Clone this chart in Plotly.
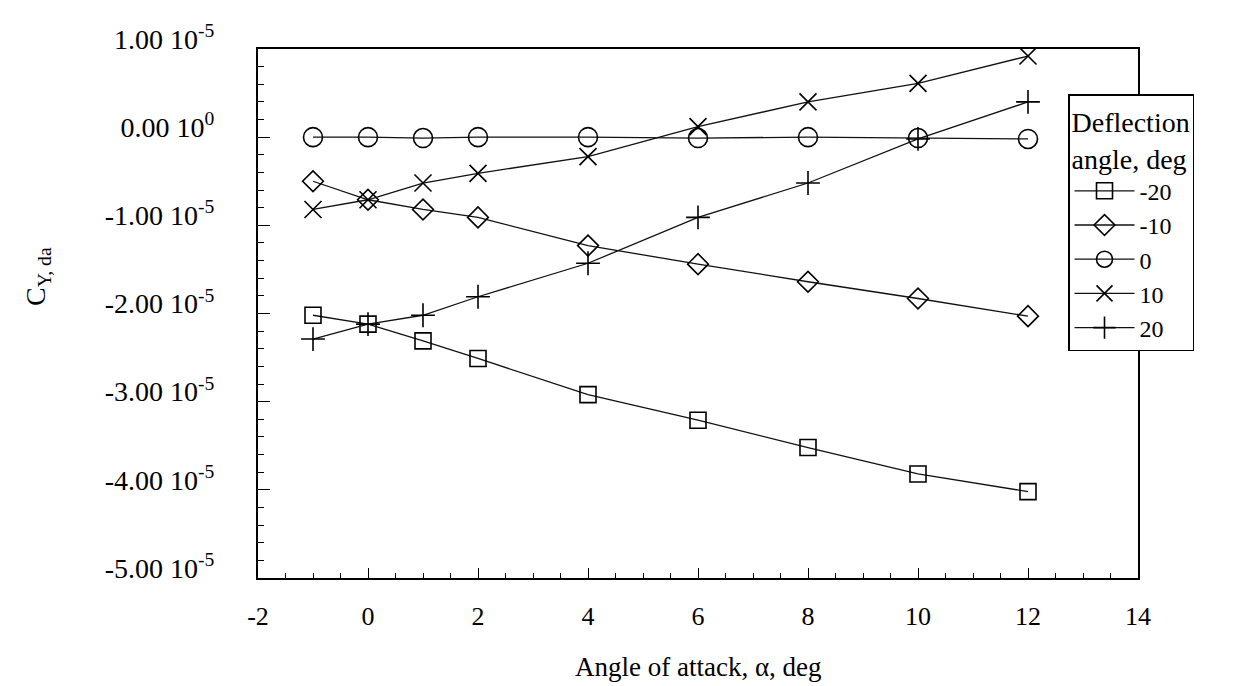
import plotly.graph_objects as go

# ---- data ----
alpha = [-1, 0, 1, 2, 4, 6, 8, 10, 12]
series_names = ["-20", "-10", "0", "10", "20"]
cy_m20 = [-2.02e-5, -2.12e-5, -2.31e-5, -2.51e-5, -2.92e-5, -3.21e-5, -3.52e-5, -3.82e-5, -4.02e-5]
cy_m10 = [-0.50e-5, -0.71e-5, -0.82e-5, -0.91e-5, -1.23e-5, -1.44e-5, -1.64e-5, -1.83e-5, -2.03e-5]
cy_0 = [0.0, 0.0, -0.01e-5, 0.0, 0.0, -0.01e-5, 0.0, -0.01e-5, -0.02e-5]
cy_p10 = [-0.82e-5, -0.71e-5, -0.52e-5, -0.41e-5, -0.22e-5, 0.12e-5, 0.40e-5, 0.61e-5, 0.92e-5]
cy_p20 = [-2.29e-5, -2.12e-5, -2.02e-5, -1.81e-5, -1.43e-5, -0.91e-5, -0.52e-5, -0.02e-5, 0.40e-5]

y_tickvals = [1e-5, 0.0, -1e-5, -2e-5, -3e-5, -4e-5, -5e-5]
y_ticktext = ["1.00 10<sup>-5</sup>", "0.00 10<sup>0</sup>", "-1.00 10<sup>-5</sup>",
              "-2.00 10<sup>-5</sup>", "-3.00 10<sup>-5</sup>", "-4.00 10<sup>-5</sup>",
              "-5.00 10<sup>-5</sup>"]
x_tickvals = [-2, 0, 2, 4, 6, 8, 10, 12, 14]
x_ticktext = ["-2", "0", "2", "4", "6", "8", "10", "12", "14"]

FONT = "Liberation Serif"
symbols = ["square-open", "diamond-open", "circle-open", "x-thin-open", "cross-thin-open"]
sizes = [16, 16, 19, 17, 17]
values = [cy_m20, cy_m10, cy_0, cy_p10, cy_p20]

fig = go.Figure()
for name, vals, sym, sz in zip(series_names, values, symbols, sizes):
    fig.add_trace(go.Scatter(
        x=alpha, y=vals, name=name, mode="lines+markers",
        line=dict(color="#111111", width=1.3),
        marker=dict(symbol=sym, size=sz, color="black",
                    line=dict(color="black", width=1.6)),
    ))

L, R, T, B = 250, 1130, 34, 570
W, H = 1247, 686

fig.update_layout(
    width=W, height=H,
    margin=dict(l=L, r=W - R, t=T, b=H - B),
    paper_bgcolor="white", plot_bgcolor="white",
    font=dict(family=FONT, color="black", size=24),
    showlegend=True,
    legend=dict(
        title=dict(text="Deflection<br>angle, deg", font=dict(family=FONT, size=28)),
        x=(1060 - L) / (R - L), y=(B - 80) / (B - T),
        xanchor="left", yanchor="top",
        bgcolor="white", bordercolor="black", borderwidth=1.5,
        font=dict(family=FONT, size=24), itemwidth=60,
    ),
    xaxis=dict(
        range=[-2, 14], tickvals=x_tickvals, ticktext=x_ticktext,
        ticks="inside", ticklen=10, tickwidth=1.3,
        tickcolor="black", showline=True, linecolor="black", linewidth=1.5, mirror=True,
        showgrid=False, zeroline=False, tickfont=dict(family=FONT, size=26),
        ticklabelstandoff=14,
        minor=dict(dtick=0.5, ticks="inside", ticklen=5, tickcolor="black", tickwidth=1),
    ),
    yaxis=dict(
        range=[-5e-5, 1e-5], tickvals=y_tickvals, ticktext=y_ticktext,
        ticks="inside", ticklen=12, tickwidth=1.3, tickcolor="black",
        showline=True, linecolor="black", linewidth=2, mirror=True,
        showgrid=False, zeroline=False, tickfont=dict(family=FONT, size=28),
        ticklabelstandoff=36, ticklabelshift=-10,
        minor=dict(dtick=0.2e-5, ticks="inside", ticklen=6, tickcolor="black", tickwidth=1),
    ),
    annotations=[
        dict(text="Angle of attack, α, deg", xref="paper", yref="paper",
             x=0.5, y=(B - 660) / (B - T), xanchor="center", yanchor="middle",
             showarrow=False, font=dict(family=FONT, size=27)),
        dict(text="C<sub>Y, da</sub>", xref="paper", yref="paper",
             x=(30 - L) / (R - L), y=(B - 265) / (B - T), xanchor="center", yanchor="middle",
             textangle=-90, showarrow=False, font=dict(family=FONT, size=28)),
    ],
)

fig.write_html("out.html")
